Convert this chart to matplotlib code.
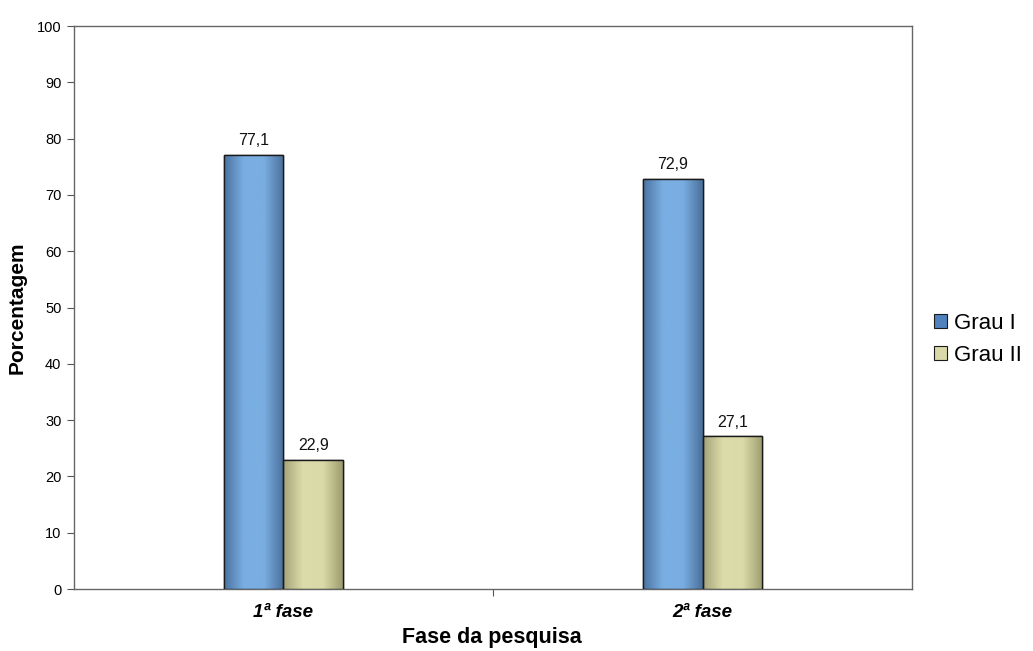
import numpy as np
import matplotlib
matplotlib.use('Agg')
import matplotlib.pyplot as plt
from matplotlib.patches import Patch
from matplotlib.colors import LinearSegmentedColormap

plt.rcParams['font.family'] = ['Liberation Sans', 'DejaVu Sans']

fases = ['1ª fase', '2ª fase']
grau1 = [77.1, 72.9]
grau2 = [22.9, 27.1]
series_names = ['Grau I', 'Grau II']

fig = plt.figure(figsize=(10.33, 6.51), dpi=100)
ax = fig.add_axes([0.0716, 0.0952, 0.8113, 0.8648])

x = np.arange(len(fases))
w = 0.143

# horizontal shading inside each bar: dark edges, light middle
blue_cm = LinearSegmentedColormap.from_list('b', ['#4a72a0', '#7aaee2', '#7aaee2', '#4a6f9a'])
olive_cm = LinearSegmentedColormap.from_list('o', ['#a3a37a', '#dcdcaa', '#dadaa8', '#9c9c70'])
grad = np.linspace(0, 1, 256).reshape(1, -1)

def shaded_bars(xs, vals, cmap, face):
    bars = ax.bar(xs, vals, w, color=face, edgecolor='#1a1a1a', linewidth=1.0, zorder=3)
    for b in bars:
        x0, y0, bw, bh = b.get_x(), b.get_y(), b.get_width(), b.get_height()
        im = ax.imshow(grad, cmap=cmap, aspect='auto', extent=[x0, x0 + bw, y0, y0 + bh],
                       zorder=3.5, interpolation='bicubic')
        im.set_clip_path(b)
        ax.add_patch(plt.Rectangle((x0, y0), bw, bh, fill=False, edgecolor='#1a1a1a',
                                   linewidth=1.0, zorder=4))
        ax.text(x0 + bw / 2, y0 + bh + 1.2, f'{bh:.1f}'.replace('.', ','),
                ha='center', va='bottom', fontsize=11.5, color='#111111', zorder=5)
    return bars

shaded_bars(x - w / 2, grau1, blue_cm, '#6a9cd4')
shaded_bars(x + w / 2, grau2, olive_cm, '#cfcf9f')

ax.set_xlim(-0.5, 1.5)
ax.set_ylim(0, 100)
ax.set_yticks(range(0, 101, 10))
ax.tick_params(axis='y', labelsize=10.5, length=5, color='#555555', pad=4)
ax.set_xticks([0.5])
ax.set_xticklabels([''])
ax.tick_params(axis='x', length=5, color='#555555')
for sp in ax.spines.values():
    sp.set_color('#666666')
    sp.set_linewidth(1.0)

for xi, lab in zip(x, fases):
    ax.text(xi, -2.6, lab, ha='center', va='top', fontsize=13.5, fontweight='bold',
            fontstyle='italic', transform=ax.transData)

ax.set_ylabel('Porcentagem', fontsize=15, fontweight='bold', labelpad=7)
fig.text(0.476, 0.021, 'Fase da pesquisa', ha='center', va='center', fontsize=15.5, fontweight='bold')

handles = [Patch(facecolor='#4f81bd', edgecolor='#1a1a1a', linewidth=0.8),
           Patch(facecolor='#d8d8a8', edgecolor='#1a1a1a', linewidth=0.8)]
fig.legend(handles, series_names, loc='center left', bbox_to_anchor=(0.9, 0.479),
           frameon=False, fontsize=16, handlelength=0.6, handleheight=0.6,
           handletextpad=0.3, labelspacing=0.5, borderaxespad=0, borderpad=0.2)

fig.savefig('out.png', dpi=100)
